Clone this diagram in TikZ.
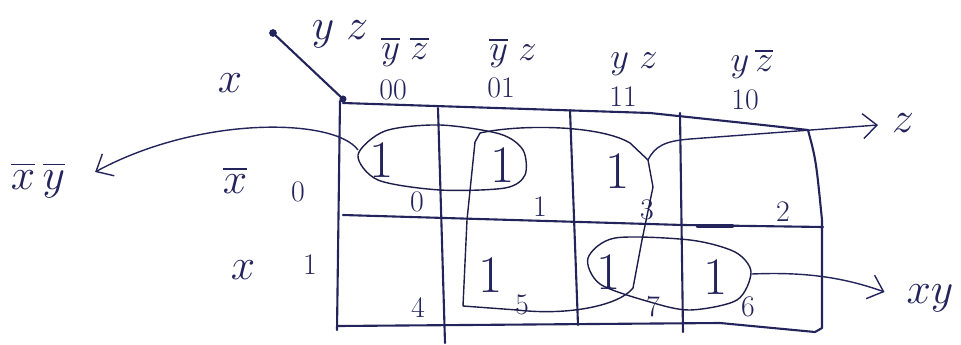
\documentclass[tikz,border=0pt]{standalone}
\usepackage{amsmath,amssymb}
\usepackage{xcolor}
\usetikzlibrary{arrows.meta,positioning,calc}
\definecolor{tinta}{RGB}{36,36,92}
\tikzset{
  linea/.style={draw=tinta, line width=1.2pt, line cap=round, line join=round},
  grupo/.style={draw=tinta!80!black, line width=0.8pt, line join=round},
  flecha/.style={-{Straight Barb[length=2.8mm,width=5mm]}, draw=tinta, line width=0.8pt},
  etiq/.style={text=tinta, font=\fontsize{24}{26}\selectfont, inner sep=1pt},
  cab/.style={text=tinta, font=\fontsize{21}{22}\selectfont, inner sep=1pt},
  num/.style={text=tinta, font=\fontsize{17}{18}\selectfont, inner sep=1pt},
  uno/.style={text=tinta, font=\fontsize{30}{30}\selectfont, inner sep=0pt}
}

\begin{document}
\begin{tikzpicture}[x=0.02cm,y=-0.02cm]
\useasboundingbox (0,0) rectangle (961,345);
% marco del mapa
\draw[linea] (343,103) -- (650,113) -- (763,125) -- (808,130) .. controls (816,160) .. (822,220) -- (822,328) -- (815,332);
\draw[linea] (340,101) -- (337,330);
\draw[linea] (338,326) -- (720,323) -- (815,332);
\draw[linea] (343,215) -- (683,225) -- (823,227);
\draw[tinta, line width=2.6pt, line cap=round] (698,226) -- (732,226);
\draw[linea] (438,108) -- (445,343);
\draw[linea] (570,110) -- (578,325);
\draw[linea] (680,113) -- (683,332);
\draw[linea] (273,33) -- (343,99);
\fill[tinta] (273,33) circle (2.2pt);
\fill[tinta] (343,99) circle (2pt);

% variables
\node[etiq] (yz) at (340,34) {$y\;z$};
\node[etiq] (xv) at (230,83) {$x$};
\node[cab] (c00) at (405,52) {$\overline{y}\;\overline{z}$};
\node[cab] (c01) at (513,53) {$\overline{y}\;z$};
\node[cab] (c11) at (634,64) {$y\;z$};
\node[cab] (c10) at (752,64) {$y\,\overline{z}$};
\node[num] (n00) at (393,90) {00};
\node[num] (n01) at (501,88) {01};
\node[num] (n11) at (623,97) {11};
\node[num] (n10) at (745,100) {10};
\node[etiq] (f0) at (235,180) {$\overline{x}$};
\node[num] (r0) at (298,192) {0};
\node[etiq] (f1) at (243,270) {$x$};
\node[num] (r1) at (310,265) {1};

% unos
\node[uno] (u0) at (382,160) {1};
\node[uno] (u1) at (503,165) {1};
\node[uno] (u3) at (618,171) {1};
\node[uno] (u5) at (491,275) {1};
\node[uno] (u7) at (609,272) {1};
\node[uno] (u6) at (716,277) {1};

% celdas
\node[num] (m0) at (417,202) {0};
\node[num] (m1) at (540,207) {1};
\node[num] (m3) at (647,210) {3};
\node[num] (m2) at (783,212) {2};
\node[num] (m4) at (418,308) {4};
\node[num] (m5) at (522,305) {5};
\node[num] (m7) at (653,307) {7};
\node[num] (m6) at (748,307) {6};

% grupos
\draw[grupo] plot[smooth cycle] coordinates {(358,155) (385,131) (440,125) (500,134) (523,150) (525,175) (505,188) (440,190) (378,180)};
\draw[grupo] (480,133) .. controls (520,124) and (600,125) .. (630,143) -- (648,160) -- (653,187) -- (642,240) -- (633,288)
  .. controls (620,305) and (570,316) .. (517,310) -- (463,306) -- (467,220) -- (475,142) -- cycle;
\draw[grupo] plot[smooth cycle] coordinates {(588,258) (615,238) (690,240) (735,252) (751,272) (737,300) (690,310) (650,302) (600,284)};

% salidas
\coordinate (g0) at (358,150);
\coordinate (gz) at (648,160);
\coordinate (gxy) at (752,274);
\node[etiq] (l0) at (38,180) {$\overline{x}\,\overline{y}$};
\node[etiq] (lz) at (903,123) {$z$};
\node[etiq] (lxy) at (930,298) {$xy$};
\draw[flecha] (g0) .. controls (335,118) and (200,115) .. ($(l0.east)+(28,-8)$);
\draw[flecha] (gz) .. controls (655,146) and (665,141) .. (690,139) -- ($(lz.west)+(-12,2)$);
\draw[flecha] (gxy) .. controls (800,272) and (840,276) .. ($(lxy.west)+(-20,-6)$);
\end{tikzpicture}
\end{document}
